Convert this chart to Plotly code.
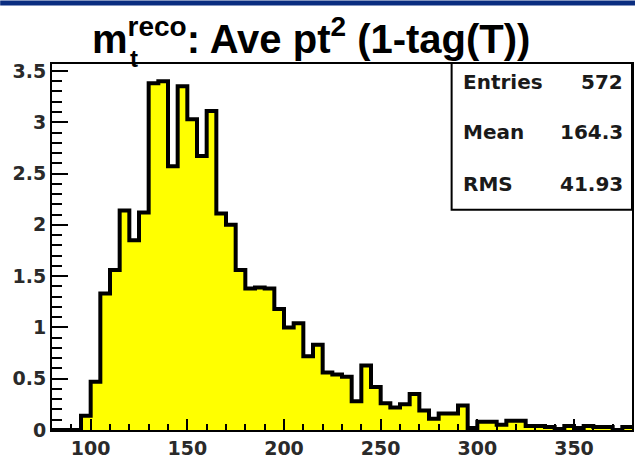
import numpy as np
import plotly.graph_objects as go

# Histogram: m_t^reco, bins of width 5 from 80 to 380
bin_low = 80
bin_width = 5
values = [
    0.0, 0.0, 0.0, 0.14, 0.47, 1.33, 1.56, 2.14, 1.85, 2.12,   # 80-130
    3.38, 3.40, 2.57, 3.35, 3.03, 2.67, 3.11, 2.11, 2.00, 1.56,  # 130-180
    1.38, 1.39, 1.38, 1.18, 1.00, 1.04, 0.72, 0.83, 0.56, 0.54,  # 180-230
    0.52, 0.28, 0.63, 0.42, 0.26, 0.22, 0.25, 0.35, 0.19, 0.11,  # 230-280
    0.16, 0.16, 0.24, 0.02, 0.08, 0.08, 0.05, 0.09, 0.09, 0.04,  # 280-330
    0.04, 0.03, 0.01, 0.04, 0.02, 0.04, 0.03, 0.03, 0.0, 0.03,   # 330-380
]
x_ticks = [100, 150, 200, 250, 300, 350]
y_ticks = [0, 0.5, 1, 1.5, 2, 2.5, 3, 3.5]
y_tick_labels = ["0", "0.5", "1", "1.5", "2", "2.5", "3", "3.5"]
stat_names = ["Entries", "Mean", "RMS"]
stat_values = ["572", "164.3", "41.93"]

edges = bin_low + bin_width * np.arange(len(values) + 1)
xs = list(edges)
ys = list(values) + [values[-1]]

W, H = 637, 462
L, R, T, B = 52, 3, 64, 29
pw, ph = W - L - R, H - T - B

def px(xp):
    return (xp - L) / pw

def py(yp):
    return (H - B - yp) / ph

TFONT = "Liberation Sans, Arial, sans-serif"
FONT = "DejaVu Sans, sans-serif"

fig = go.Figure()
fig.add_trace(go.Scatter(
    x=xs, y=ys, mode="lines", line_shape="hv",
    line=dict(color="black", width=4),
    fill="tozeroy", fillcolor="#ffff00",
    hoverinfo="skip", showlegend=False,
))

fig.update_layout(
    width=W, height=H,
    margin=dict(l=L, r=R, t=T, b=B, pad=0),
    paper_bgcolor="white", plot_bgcolor="white",
    showlegend=False,
    xaxis=dict(
        range=[80, 380], showgrid=False, zeroline=False,
        tickmode="array", tickvals=x_ticks, ticktext=[f"<b>{v}</b>" for v in x_ticks],
        ticks="inside", ticklen=11, tickwidth=2, tickcolor="black",
        minor=dict(dtick=10, tick0=0, ticks="inside", ticklen=6, tickwidth=2, tickcolor="black"),
        showline=True, linecolor="black", linewidth=2, mirror=True,
        tickfont=dict(family=FONT, size=19, color="#2a2a2a"),
    ),
    yaxis=dict(
        range=[0, 3.568], showgrid=False, zeroline=False,
        tickmode="array", tickvals=y_ticks, ticktext=[f"<b>{t}</b>" for t in y_tick_labels],
        ticks="inside", ticklen=16, tickwidth=2, tickcolor="black",
        minor=dict(dtick=0.1, tick0=0, ticks="inside", ticklen=10, tickwidth=2, tickcolor="black"),
        showline=True, linecolor="black", linewidth=2, mirror=True,
        tickfont=dict(family=FONT, size=19, color="#2a2a2a"),
    ),
)

shapes = [
    # navy band at the top
    dict(type="rect", xref="paper", yref="paper", x0=px(0), x1=px(W), y0=py(0), y1=py(5),
         fillcolor="#0a2d80", line=dict(width=0), layer="above"),
    # stats box
    dict(type="rect", xref="paper", yref="paper", x0=px(453), x1=px(634), y0=py(211), y1=py(63),
         fillcolor="white", line=dict(color="black", width=2), layer="above"),
]
fig.update_layout(shapes=shapes)

annotations = []
row_y = [82, 133, 185]
for name, val, yy in zip(stat_names, stat_values, row_y):
    annotations.append(dict(xref="paper", yref="paper", x=px(462), y=py(yy), text=f"<b>{name}</b>",
                            showarrow=False, xanchor="left", yanchor="middle",
                            font=dict(family=FONT, size=20, color="#1a1a1a")))
    annotations.append(dict(xref="paper", yref="paper", x=px(627), y=py(yy), text=f"<b>{val}</b>",
                            showarrow=False, xanchor="right", yanchor="middle",
                            font=dict(family=FONT, size=20, color="#1a1a1a")))

# title
annotations.append(dict(xref="paper", yref="paper", x=px(312), y=py(36),
                        text="<b>m<sup>reco</sup>: Ave pt<sup>2</sup> (1-tag(T))</b>",
                        showarrow=False, xanchor="center", yanchor="middle",
                        font=dict(family=TFONT, size=40, color="black")))
annotations.append(dict(xref="paper", yref="paper", x=px(134), y=py(58),
                        text="<b>t</b>", showarrow=False, xanchor="center", yanchor="middle",
                        font=dict(family=TFONT, size=24, color="black")))
fig.update_layout(annotations=annotations)

fig.write_html("out.html")
